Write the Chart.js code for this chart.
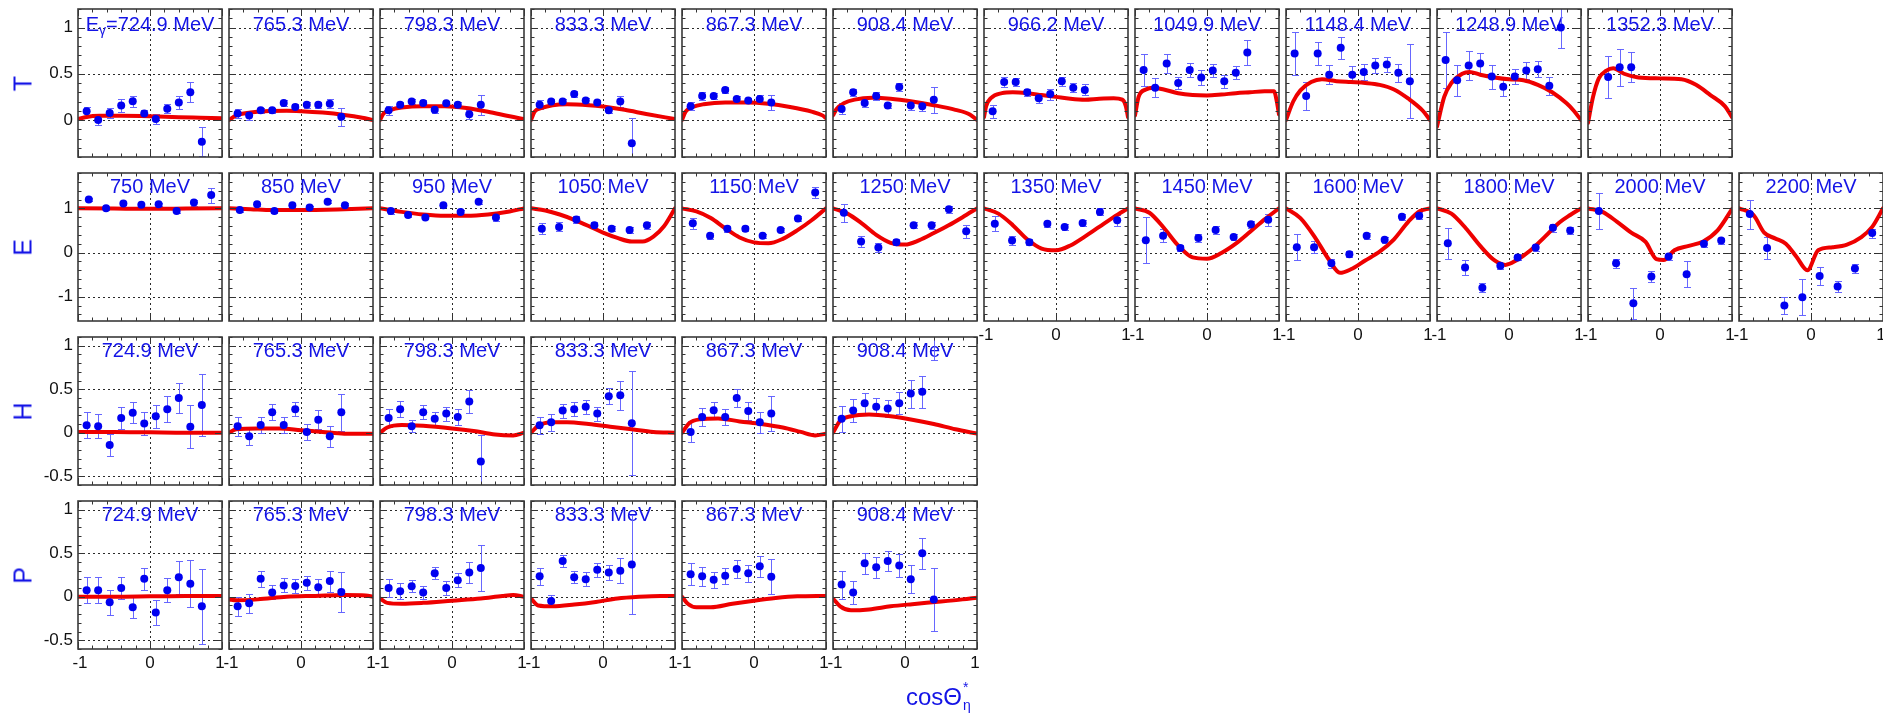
<!DOCTYPE html>
<html>
<head>
<meta charset="utf-8">
<script src="https://cdn.jsdelivr.net/npm/chart.js@4.4.1/dist/chart.umd.min.js"></script>
<style>
html,body{margin:0;padding:0;background:#fff;}
body{width:1883px;height:718px;overflow:hidden;position:relative;font-family:"Liberation Sans",Arial,Helvetica,sans-serif;}
canvas{position:absolute;}
.rowlab{position:absolute;color:#1414e6;font-size:25px;line-height:25px;width:40px;text-align:center;transform:rotate(-90deg);}
#xtitle{position:absolute;left:906px;top:685px;color:#1414e6;font-size:24px;line-height:24px;white-space:nowrap;}
#xtitle .st{display:inline-block;position:relative;width:12px;height:24px;vertical-align:top;font-size:14px;line-height:14px;}
#xtitle .st span{position:absolute;left:1px;}
</style>
</head>
<body>
<script>
// ---------------- DATA ----------------
// tick values
const X_ticks = [-1, 0, 1];
const T_yTicks = [0, 0.5, 1];
const E_yTicks = [-1, 0, 1];
const H_yTicks = [-0.5, 0, 0.5, 1];
const P_yTicks = [-0.5, 0, 0.5, 1];

// cos(theta) bin centres
const T_bins = [-0.88, -0.72, -0.56, -0.40, -0.24, -0.08, 0.08, 0.24, 0.40, 0.56, 0.72];
const E_bins = [-0.85, -0.61, -0.37, -0.12, 0.12, 0.37, 0.61, 0.85];
const H_bins = [-0.88, -0.72, -0.56, -0.40, -0.24, -0.08, 0.08, 0.24, 0.40, 0.56, 0.72];
const P_bins = [-0.88, -0.72, -0.56, -0.40, -0.24, -0.08, 0.08, 0.24, 0.40, 0.56, 0.72];

// ---- T ----
const T_titles = ['E_\u03b3=724.9 MeV', '765.3 MeV', '798.3 MeV', '833.3 MeV', '867.3 MeV', '908.4 MeV', '966.2 MeV', '1049.9 MeV', '1148.4 MeV', '1248.9 MeV', '1352.3 MeV'];
const T_first = [0, 0, 0, 0, 0, 0, 0, 0, 0, 0, 1];
const T_ptY = [
  [0.094, 0.0, 0.077, 0.157, 0.203, 0.07, 0.01, 0.122, 0.19, 0.30, -0.234],
  [0.07, 0.05, 0.105, 0.105, 0.185, 0.14, 0.165, 0.165, 0.175, 0.035],
  [0.105, 0.165, 0.2, 0.185, 0.11, 0.18, 0.165, 0.063, 0.165],
  [0.165, 0.2, 0.2, 0.28, 0.21, 0.19, 0.105, 0.2, -0.25],
  [0.15, 0.26, 0.26, 0.325, 0.227, 0.21, 0.227, 0.19],
  [0.12, 0.30, 0.185, 0.26, 0.157, 0.357, 0.157, 0.15, 0.22],
  [0.094, 0.41, 0.41, 0.30, 0.234, 0.28, 0.42, 0.35, 0.325],
  [0.54, 0.35, 0.61, 0.40, 0.54, 0.46, 0.535, 0.42, 0.51, 0.73],
  [0.72, 0.26, 0.72, 0.49, 0.78, 0.49, 0.52, 0.59, 0.60, 0.51, 0.42],
  [0.65, 0.43, 0.59, 0.61, 0.47, 0.36, 0.47, 0.535, 0.55, 0.37, 1.0],
  [0.465, 0.57, 0.57]
];
const T_ptErr = [
  [0.05, 0.05, 0.05, 0.07, 0.06, 0.04, 0.05, 0.05, 0.07, 0.11, 0.16],
  [0.05, 0.05, 0.03, 0.03, 0.03, 0.03, 0.03, 0.03, 0.05, 0.10],
  [0.05, 0.03, 0.03, 0.03, 0.03, 0.03, 0.03, 0.05, 0.11],
  [0.05, 0.03, 0.03, 0.03, 0.03, 0.03, 0.03, 0.06, 0.27],
  [0.04, 0.04, 0.03, 0.03, 0.03, 0.03, 0.04, 0.08],
  [0.06, 0.04, 0.04, 0.04, 0.03, 0.04, 0.05, 0.05, 0.14],
  [0.07, 0.05, 0.04, 0.04, 0.05, 0.06, 0.05, 0.05, 0.06],
  [0.17, 0.10, 0.10, 0.07, 0.08, 0.08, 0.07, 0.07, 0.07, 0.14],
  [0.23, 0.15, 0.12, 0.10, 0.12, 0.09, 0.09, 0.08, 0.08, 0.10, 0.40],
  [0.30, 0.17, 0.16, 0.11, 0.13, 0.10, 0.08, 0.09, 0.09, 0.10, 0.22],
  [0.23, 0.20, 0.16]
];
const T_crvX = [
  [-1, -0.9, -0.7, -0.4, 0, 0.4, 0.7, 1],
  [-1, -0.9, -0.7, -0.5, -0.2, 0, 0.3, 0.6, 0.85, 1],
  [-1, -0.95, -0.85, -0.7, -0.4, -0.1, 0.2, 0.5, 0.8, 1],
  [-1, -0.95, -0.85, -0.7, -0.5, -0.2, 0, 0.3, 0.6, 1],
  [-1, -0.95, -0.85, -0.7, -0.4, -0.1, 0.2, 0.5, 0.8, 0.95, 1],
  [-1, -0.95, -0.85, -0.7, -0.45, -0.2, 0.1, 0.4, 0.7, 0.9, 1],
  [-1, -0.97, -0.9, -0.75, -0.6, -0.4, -0.2, 0, 0.2, 0.4, 0.6, 0.8, 0.92, 0.97, 1],
  [-1, -0.95, -0.85, -0.75, -0.6, -0.4, -0.2, 0, 0.2, 0.4, 0.6, 0.8, 0.93, 0.97, 1],
  [-1, -0.9, -0.8, -0.65, -0.5, -0.3, -0.1, 0.1, 0.3, 0.5, 0.7, 0.9, 1],
  [-1, -0.9, -0.8, -0.65, -0.55, -0.4, -0.2, 0, 0.2, 0.4, 0.6, 0.8, 0.9, 1],
  [-1, -0.93, -0.85, -0.75, -0.65, -0.5, -0.3, 0, 0.3, 0.5, 0.7, 0.9, 1]
];
const T_crvY = [
  [0.01, 0.03, 0.045, 0.045, 0.04, 0.03, 0.025, 0.02],
  [0.0, 0.05, 0.08, 0.095, 0.1, 0.095, 0.08, 0.055, 0.025, 0.0],
  [0.0, 0.07, 0.11, 0.135, 0.15, 0.15, 0.13, 0.09, 0.04, 0.01],
  [0.0, 0.09, 0.13, 0.16, 0.17, 0.16, 0.145, 0.11, 0.065, 0.01],
  [0.0, 0.09, 0.14, 0.17, 0.19, 0.19, 0.175, 0.14, 0.09, 0.05, 0.02],
  [0.05, 0.12, 0.18, 0.22, 0.24, 0.23, 0.2, 0.16, 0.11, 0.06, 0.0],
  [0.03, 0.15, 0.24, 0.29, 0.3, 0.29, 0.27, 0.25, 0.23, 0.22, 0.23, 0.235, 0.22, 0.15, 0.03],
  [0.05, 0.25, 0.33, 0.35, 0.33, 0.29, 0.27, 0.265, 0.275, 0.29, 0.3, 0.31, 0.31, 0.2, 0.06],
  [0.0, 0.2, 0.32, 0.41, 0.44, 0.42, 0.41, 0.4, 0.38, 0.33, 0.23, 0.1, 0.0],
  [-0.07, 0.25, 0.4, 0.5, 0.52, 0.49, 0.46, 0.44, 0.43, 0.38, 0.3, 0.18, 0.1, 0.0],
  [-0.03, 0.25, 0.45, 0.53, 0.56, 0.5, 0.46, 0.45, 0.44, 0.38, 0.27, 0.15, 0.03]
];

// ---- E ----
const E_titles = ['750 MeV', '850 MeV', '950 MeV', '1050 MeV', '1150 MeV', '1250 MeV', '1350 MeV', '1450 MeV', '1600 MeV', '1800 MeV', '2000 MeV', '2200 MeV'];
const E_first = [0, 0, 0, 0, 0, 0, 0, 0, 0, 0, 0, 0];
const E_ptY = [
  [1.2, 1.0, 1.11, 1.08, 1.09, 0.94, 1.13, 1.3],
  [0.96, 1.09, 0.94, 1.07, 1.02, 1.15, 1.07],
  [0.94, 0.85, 0.79, 1.07, 0.92, 1.15, 0.79],
  [0.54, 0.58, 0.75, 0.62, 0.54, 0.51, 0.62],
  [0.66, 0.38, 0.54, 0.54, 0.38, 0.51, 0.77, 1.36],
  [0.9, 0.25, 0.115, 0.23, 0.62, 0.62, 0.98, 0.48],
  [0.65, 0.27, 0.23, 0.65, 0.58, 0.67, 0.92, 0.73],
  [0.28, 0.38, 0.1, 0.33, 0.51, 0.35, 0.64, 0.74],
  [0.12, 0.12, -0.245, -0.04, 0.38, 0.29, 0.81, 0.83],
  [0.21, -0.34, -0.8, -0.3, -0.11, 0.115, 0.56, 0.5],
  [0.94, -0.245, -1.15, -0.54, -0.09, -0.49, 0.2, 0.27],
  [0.87, 0.1, -1.2, -1.01, -0.53, -0.77, -0.36, 0.44]
];
const E_ptErr = [
  [0.04, 0.04, 0.04, 0.04, 0.04, 0.04, 0.07, 0.17],
  [0.04, 0.04, 0.04, 0.04, 0.04, 0.04, 0.06],
  [0.06, 0.04, 0.04, 0.04, 0.04, 0.05, 0.07],
  [0.12, 0.10, 0.08, 0.06, 0.06, 0.06, 0.08],
  [0.13, 0.07, 0.07, 0.06, 0.04, 0.05, 0.06, 0.12],
  [0.20, 0.12, 0.10, 0.07, 0.07, 0.08, 0.08, 0.15],
  [0.17, 0.10, 0.07, 0.07, 0.06, 0.07, 0.08, 0.12],
  [0.52, 0.15, 0.06, 0.10, 0.08, 0.06, 0.08, 0.13],
  [0.30, 0.13, 0.10, 0.07, 0.07, 0.07, 0.07, 0.08],
  [0.35, 0.17, 0.10, 0.07, 0.07, 0.08, 0.09, 0.08],
  [0.40, 0.10, 0.35, 0.12, 0.08, 0.30, 0.07, 0.07],
  [0.33, 0.25, 0.20, 0.40, 0.20, 0.12, 0.10, 0.10]
];
const E_crvX = [
  [-1, -0.5, 0, 0.5, 1],
  [-1, -0.7, -0.4, -0.1, 0.2, 0.5, 0.8, 1],
  [-1, -0.7, -0.4, -0.1, 0.2, 0.5, 0.8, 1],
  [-1, -0.8, -0.6, -0.4, -0.2, 0, 0.2, 0.4, 0.55, 0.7, 0.85, 1],
  [-1, -0.8, -0.6, -0.4, -0.2, 0, 0.2, 0.4, 0.6, 0.8, 1],
  [-1, -0.8, -0.6, -0.4, -0.2, 0, 0.2, 0.4, 0.6, 0.8, 1],
  [-1, -0.8, -0.6, -0.4, -0.2, 0, 0.2, 0.4, 0.6, 0.8, 1],
  [-1, -0.8, -0.6, -0.4, -0.2, 0, 0.2, 0.4, 0.6, 0.8, 1],
  [-1, -0.8, -0.6, -0.4, -0.25, -0.1, 0.1, 0.3, 0.5, 0.7, 0.85, 1],
  [-1, -0.8, -0.6, -0.4, -0.2, -0.05, 0.1, 0.3, 0.5, 0.7, 0.85, 1],
  [-1, -0.8, -0.6, -0.4, -0.2, -0.05, 0.05, 0.2, 0.4, 0.6, 0.8, 1],
  [-1, -0.8, -0.65, -0.5, -0.35, -0.2, -0.05, 0.1, 0.3, 0.5, 0.7, 0.85, 1]
];
const E_crvY = [
  [1.0, 0.995, 0.99, 0.995, 1.0],
  [1.0, 0.98, 0.96, 0.96, 0.965, 0.975, 0.99, 1.0],
  [1.0, 0.92, 0.86, 0.83, 0.83, 0.86, 0.93, 1.0],
  [1.0, 0.95, 0.86, 0.74, 0.6, 0.45, 0.33, 0.25, 0.25, 0.36, 0.6, 1.0],
  [1.0, 0.93, 0.78, 0.55, 0.34, 0.23, 0.21, 0.31, 0.5, 0.73, 1.0],
  [1.0, 0.88, 0.66, 0.4, 0.22, 0.18, 0.28, 0.44, 0.61, 0.8, 1.0],
  [1.0, 0.88, 0.62, 0.3, 0.09, 0.05, 0.16, 0.36, 0.58, 0.8, 1.0],
  [1.0, 0.9, 0.56, 0.16, -0.11, -0.14, -0.01, 0.2, 0.47, 0.75, 1.0],
  [1.0, 0.78, 0.35, -0.17, -0.46, -0.38, -0.18, 0.02, 0.3, 0.7, 0.93, 1.0],
  [1.0, 0.88, 0.55, 0.15, -0.18, -0.28, -0.18, 0.05, 0.36, 0.68, 0.85, 1.0],
  [1.0, 0.92, 0.7, 0.45, 0.24, -0.15, -0.17, 0.05, 0.15, 0.25, 0.5, 0.98],
  [1.0, 0.85, 0.45, 0.32, 0.2, -0.1, -0.4, 0.05, 0.12, 0.18, 0.35, 0.58, 1.0]
];

// ---- H ----
const H_titles = ['724.9 MeV', '765.3 MeV', '798.3 MeV', '833.3 MeV', '867.3 MeV', '908.4 MeV'];
const H_first = [0, 0, 0, 0, 0, 0];
const H_ptY = [
  [0.086, 0.075, -0.14, 0.17, 0.23, 0.105, 0.19, 0.27, 0.40, 0.07, 0.32],
  [0.075, -0.04, 0.09, 0.235, 0.09, 0.27, 0.01, 0.15, -0.04, 0.235],
  [0.17, 0.27, 0.075, 0.235, 0.16, 0.22, 0.18, 0.36, -0.33],
  [0.086, 0.12, 0.255, 0.27, 0.30, 0.22, 0.42, 0.43, 0.11],
  [0.01, 0.18, 0.26, 0.18, 0.40, 0.25, 0.12, 0.22],
  [0.16, 0.255, 0.34, 0.30, 0.28, 0.34, 0.45, 0.47, 1.25]
];
const H_ptErr = [
  [0.15, 0.14, 0.13, 0.13, 0.12, 0.13, 0.13, 0.15, 0.17, 0.25, 0.36],
  [0.11, 0.10, 0.09, 0.09, 0.09, 0.08, 0.09, 0.11, 0.12, 0.21],
  [0.10, 0.09, 0.07, 0.08, 0.08, 0.08, 0.09, 0.13, 0.30],
  [0.10, 0.10, 0.08, 0.08, 0.08, 0.08, 0.09, 0.17, 0.60],
  [0.12, 0.10, 0.09, 0.09, 0.10, 0.10, 0.12, 0.20],
  [0.15, 0.13, 0.12, 0.10, 0.10, 0.13, 0.16, 0.18, 0.41]
];
const H_crvX = [
  [-1, -0.5, 0, 0.5, 1],
  [-1, -0.9, -0.6, -0.3, 0, 0.3, 0.6, 1],
  [-1, -0.9, -0.7, -0.4, 0, 0.3, 0.6, 0.85, 1],
  [-1, -0.9, -0.7, -0.5, -0.2, 0.1, 0.4, 0.7, 1],
  [-1, -0.9, -0.75, -0.5, -0.2, 0.1, 0.4, 0.65, 0.85, 1],
  [-1, -0.9, -0.75, -0.5, -0.2, 0.1, 0.4, 0.7, 1]
];
const H_crvY = [
  [0.01, 0.01, 0.005, 0.0, 0.0],
  [0.0, 0.04, 0.05, 0.05, 0.03, 0.01, -0.01, -0.01],
  [0.0, 0.06, 0.09, 0.08, 0.05, 0.02, -0.02, -0.03, 0.0],
  [0.0, 0.08, 0.12, 0.12, 0.1, 0.07, 0.04, 0.01, 0.0],
  [0.0, 0.11, 0.155, 0.165, 0.13, 0.1, 0.06, 0.01, -0.03, -0.01],
  [0.0, 0.14, 0.19, 0.21, 0.19, 0.15, 0.1, 0.04, -0.01]
];

// ---- P ----
const P_titles = ['724.9 MeV', '765.3 MeV', '798.3 MeV', '833.3 MeV', '867.3 MeV', '908.4 MeV'];
const P_first = [0, 0, 0, 0, 0, 0];
const P_ptY = [
  [0.075, 0.075, -0.064, 0.1, -0.12, 0.206, -0.18, 0.075, 0.225, 0.15, -0.11],
  [-0.11, -0.075, 0.206, 0.05, 0.13, 0.124, 0.16, 0.11, 0.18, 0.056],
  [0.1, 0.064, 0.12, 0.05, 0.27, 0.1, 0.19, 0.28, 0.33],
  [0.236, -0.05, 0.41, 0.225, 0.2, 0.31, 0.28, 0.3, 0.37],
  [0.26, 0.236, 0.195, 0.24, 0.32, 0.27, 0.35, 0.23],
  [0.14, 0.05, 0.385, 0.34, 0.41, 0.36, 0.2, 0.5, -0.03]
];
const P_ptErr = [
  [0.15, 0.15, 0.14, 0.13, 0.12, 0.13, 0.14, 0.14, 0.19, 0.27, 0.43],
  [0.11, 0.11, 0.09, 0.08, 0.08, 0.08, 0.08, 0.09, 0.12, 0.23],
  [0.10, 0.09, 0.07, 0.07, 0.07, 0.08, 0.08, 0.12, 0.26],
  [0.10, 0.07, 0.07, 0.07, 0.08, 0.08, 0.09, 0.14, 0.57],
  [0.13, 0.11, 0.09, 0.09, 0.10, 0.10, 0.12, 0.20],
  [0.16, 0.13, 0.12, 0.12, 0.11, 0.13, 0.16, 0.18, 0.36]
];
const P_crvX = [
  [-1, -0.5, 0, 0.5, 1],
  [-1, -0.9, -0.6, -0.2, 0.2, 0.6, 0.9, 1],
  [-1, -0.9, -0.7, -0.4, 0, 0.4, 0.7, 0.85, 1],
  [-1, -0.9, -0.7, -0.4, -0.1, 0.2, 0.5, 0.8, 1],
  [-1, -0.92, -0.8, -0.6, -0.3, 0, 0.3, 0.6, 1],
  [-1, -0.9, -0.75, -0.5, -0.2, 0.1, 0.5, 0.8, 1]
];
const P_crvY = [
  [0.0, 0.0, 0.005, 0.01, 0.01],
  [-0.03, -0.04, -0.03, 0.0, 0.01, 0.02, 0.015, 0.0],
  [-0.02, -0.07, -0.08, -0.07, -0.045, -0.02, 0.01, 0.02, 0.0],
  [-0.02, -0.1, -0.11, -0.09, -0.06, -0.02, 0.0, 0.01, 0.01],
  [0.0, -0.08, -0.12, -0.12, -0.08, -0.045, -0.015, 0.005, 0.01],
  [-0.02, -0.11, -0.155, -0.145, -0.11, -0.085, -0.055, -0.03, -0.01]
];

// ---------------- LAYOUT / STYLE ----------------
const FONT = '"Liberation Sans", Arial, Helvetica, sans-serif';
const COL0 = 78, COLP = 151, PW = 144, PH = 148;
const ROWTOP = [9, 173, 337, 501];
const BLUE_TXT = '#1414e6';
const PT_COL = '#0000f0';
const ERR_COL = 'rgba(95,95,255,0.95)';
const CRV_COL = '#ee0000';

const ROWS = [
  {label: 'T', titles: T_titles, bins: T_bins, first: T_first, ptY: T_ptY, err: T_ptErr, cx: T_crvX, cy: T_crvY,
   ymin: -0.4, ymax: 1.2, yticks: T_yTicks, yMajor: 0.5, yMinor: 0.1, titleOff: 16},
  {label: 'E', titles: E_titles, bins: E_bins, first: E_first, ptY: E_ptY, err: E_ptErr, cx: E_crvX, cy: E_crvY,
   ymin: -1.55, ymax: 1.8, yticks: E_yTicks, yMajor: 1, yMinor: 0.2, titleOff: 14},
  {label: 'H', titles: H_titles, bins: H_bins, first: H_first, ptY: H_ptY, err: H_ptErr, cx: H_crvX, cy: H_crvY,
   ymin: -0.6, ymax: 1.1, yticks: H_yTicks, yMajor: 0.5, yMinor: 0.1, titleOff: 14},
  {label: 'P', titles: P_titles, bins: P_bins, first: P_first, ptY: P_ptY, err: P_ptErr, cx: P_crvX, cy: P_crvY,
   ymin: -0.6, ymax: 1.1, yticks: P_yTicks, yMajor: 0.5, yMinor: 0.1, titleOff: 14}
];

function seg(ctx, x1, y1, x2, y2) { ctx.beginPath(); ctx.moveTo(x1, y1); ctx.lineTo(x2, y2); ctx.stroke(); }

const panelDecor = {
  id: 'panelDecor',
  beforeDatasetsDraw(chart) {
    const o = chart.options.plugins.panelDecor;
    const ctx = chart.ctx, a = chart.chartArea;
    const xs = chart.scales.x, ys = chart.scales.y;
    ctx.save();
    ctx.beginPath(); ctx.rect(a.left, a.top, a.right - a.left, a.bottom - a.top); ctx.clip();
    // dotted grid
    ctx.strokeStyle = '#2a2a2a'; ctx.lineWidth = 1; ctx.setLineDash([2, 3]);
    o.yGrid.forEach(v => { const p = Math.round(ys.getPixelForValue(v)) + 0.5; seg(ctx, a.left, p, a.right, p); });
    o.xGrid.forEach(v => { const p = Math.round(xs.getPixelForValue(v)) + 0.5; seg(ctx, p, a.top, p, a.bottom); });
    ctx.setLineDash([]);
    // title
    ctx.fillStyle = BLUE_TXT; ctx.textBaseline = 'middle';
    const cxp = (a.left + a.right) / 2, cyp = a.top + o.titleOff;
    const big = '20px ' + FONT, small = '14px ' + FONT;
    if (o.title.indexOf('_') >= 0) {
      const p1 = o.title.split('_')[0], p2 = o.title.split('_')[1].charAt(0), p3 = o.title.split('_')[1].slice(1);
      ctx.font = big; const w1 = ctx.measureText(p1).width, w3 = ctx.measureText(p3).width;
      ctx.font = small; const w2 = ctx.measureText(p2).width;
      let x0 = cxp - (w1 + w2 + w3) / 2;
      ctx.textAlign = 'left';
      ctx.font = big; ctx.fillText(p1, x0, cyp);
      ctx.font = small; ctx.fillText(p2, x0 + w1, cyp + 6);
      ctx.font = big; ctx.fillText(p3, x0 + w1 + w2, cyp);
    } else {
      ctx.font = big; ctx.textAlign = 'center'; ctx.fillText(o.title, cxp, cyp);
    }
    // error bars
    const ds = chart.data.datasets[1];
    ctx.strokeStyle = ERR_COL; ctx.lineWidth = 1;
    ds.data.forEach((pt, i) => {
      const e = ds.errors[i];
      const px = Math.round(xs.getPixelForValue(pt.x)) + 0.5;
      const y1 = Math.round(ys.getPixelForValue(pt.y - e)) + 0.5;
      const y2 = Math.round(ys.getPixelForValue(pt.y + e)) + 0.5;
      seg(ctx, px, y1, px, y2);
      seg(ctx, px - 3.5, y1, px + 3.5, y1);
      seg(ctx, px - 3.5, y2, px + 3.5, y2);
    });
    ctx.restore();
  },
  afterDraw(chart) {
    const o = chart.options.plugins.panelDecor;
    const ctx = chart.ctx, a = chart.chartArea;
    const xs = chart.scales.x, ys = chart.scales.y;
    ctx.save();
    // ticks (inward, all four sides)
    ctx.strokeStyle = '#333'; ctx.lineWidth = 1;
    const k0 = Math.ceil(o.ymin / o.yMinor - 1e-6), k1 = Math.floor(o.ymax / o.yMinor + 1e-6);
    for (let k = k0; k <= k1; k++) {
      const v = k * o.yMinor, r = v / o.yMajor;
      const L = Math.abs(r - Math.round(r)) < 1e-6 ? 7 : 3.5;
      const p = Math.round(ys.getPixelForValue(v)) + 0.5;
      seg(ctx, a.left, p, a.left + L, p); seg(ctx, a.right, p, a.right - L, p);
    }
    for (let k = -5; k <= 5; k++) {
      const v = k * 0.2, L = (k % 5 === 0) ? 7 : 3.5;
      const p = Math.round(xs.getPixelForValue(v)) + 0.5;
      seg(ctx, p, a.top, p, a.top + L); seg(ctx, p, a.bottom, p, a.bottom - L);
    }
    // frame
    ctx.strokeStyle = '#3a3a3a'; ctx.lineWidth = 1.6;
    ctx.strokeRect(a.left, a.top, a.right - a.left, a.bottom - a.top);
    // tick labels
    ctx.fillStyle = '#111'; ctx.font = '17px ' + FONT;
    if (o.yLabels) {
      ctx.textAlign = 'right'; ctx.textBaseline = 'middle';
      o.yGrid.forEach(v => ctx.fillText(String(v), a.left - 5, ys.getPixelForValue(v)));
    }
    if (o.xLabels) {
      ctx.textAlign = 'center'; ctx.textBaseline = 'top';
      X_ticks.forEach(v => {
        const off = v === 1 ? -2 : (v === -1 ? 2 : 0);
        ctx.fillText(String(v), xs.getPixelForValue(v) + off, a.bottom + 6);
      });
    }
    ctx.restore();
  }
};

function makePanel(r, c) {
  const R = ROWS[r];
  const left = COL0 + COLP * c, top = ROWTOP[r];
  const xLab = (r === 3) || (r === 1 && c >= 6);
  const ML = c === 0 ? left : 8, MR = 8, MT = 8, MB = xLab ? 32 : 8;
  const cv = document.createElement('canvas');
  cv.width = PW + ML + MR; cv.height = PH + MT + MB;
  cv.style.left = (left - ML) + 'px'; cv.style.top = (top - MT) + 'px';
  cv.style.width = cv.width + 'px'; cv.style.height = cv.height + 'px';
  document.body.appendChild(cv);

  const pts = R.ptY[c].map((yv, k) => ({x: R.bins[R.first[c] + k], y: yv}));
  const crv = R.cx[c].map((xv, k) => ({x: xv, y: R.cy[c][k]}));

  new Chart(cv, {
    type: 'scatter',
    data: {
      datasets: [
        {type: 'line', data: crv, borderColor: CRV_COL, borderWidth: 4, pointRadius: 0, fill: false,
         cubicInterpolationMode: 'monotone', borderCapStyle: 'round', borderJoinStyle: 'round', order: 2, clip: 0},
        {type: 'scatter', data: pts, errors: R.err[c], pointRadius: 4, pointHoverRadius: 4,
         backgroundColor: PT_COL, borderColor: PT_COL, borderWidth: 0, order: 1, clip: 6}
      ]
    },
    options: {
      responsive: false, maintainAspectRatio: false, animation: false, devicePixelRatio: 1, events: [],
      layout: {padding: {left: ML, right: MR, top: MT, bottom: MB}},
      scales: {
        x: {type: 'linear', min: -1, max: 1, display: false},
        y: {type: 'linear', min: R.ymin, max: R.ymax, display: false}
      },
      plugins: {
        legend: {display: false}, tooltip: {enabled: false}, title: {display: false},
        panelDecor: {title: R.titles[c], titleOff: R.titleOff, yGrid: R.yticks, xGrid: [0],
          ymin: R.ymin, ymax: R.ymax, yMajor: R.yMajor, yMinor: R.yMinor,
          yLabels: c === 0, xLabels: xLab}
      }
    },
    plugins: [panelDecor]
  });
}

ROWS.forEach((R, r) => {
  R.titles.forEach((t, c) => makePanel(r, c));
  const lab = document.createElement('div');
  lab.className = 'rowlab'; lab.textContent = R.label;
  lab.style.left = (23 - 20) + 'px';
  lab.style.top = (ROWTOP[r] + PH / 2 - 12.5) + 'px';
  document.body.appendChild(lab);
});

const xt = document.createElement('div');
xt.id = 'xtitle';
xt.innerHTML = 'cos\u0398<span class="st"><span style="top:-5px">*</span><span style="top:13px">\u03b7</span></span>';
document.body.appendChild(xt);
</script>
</body>
</html>
